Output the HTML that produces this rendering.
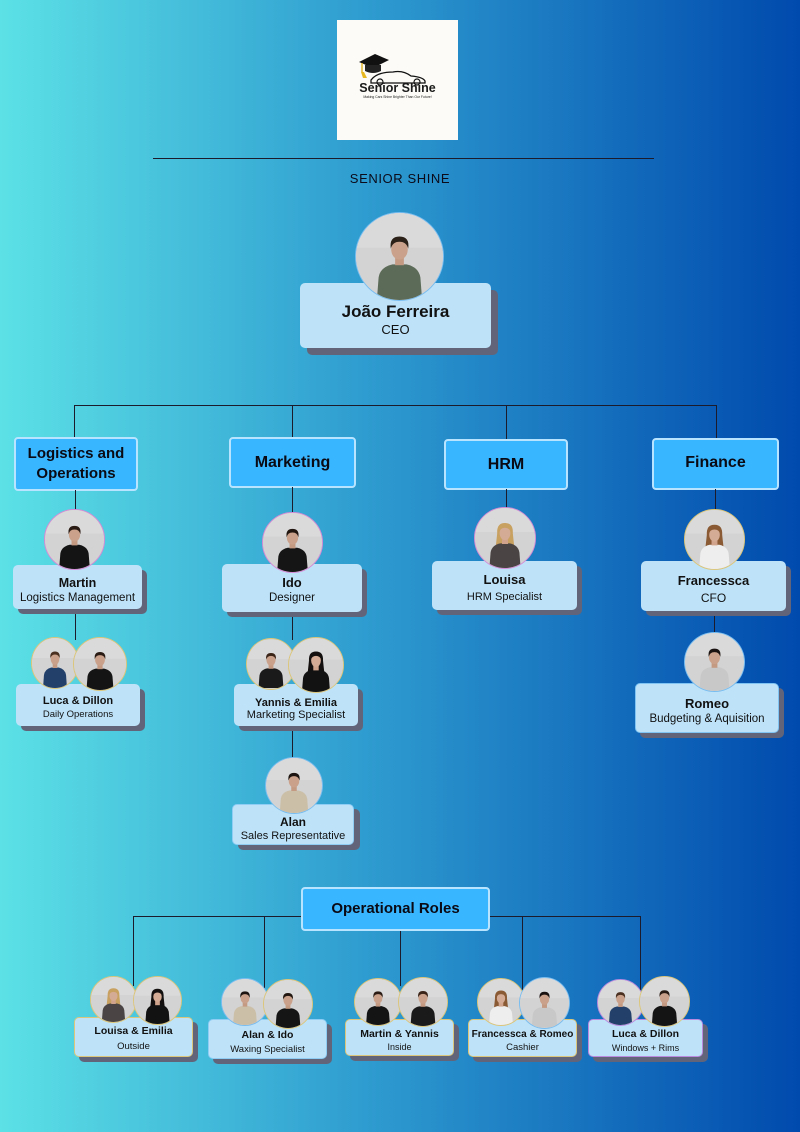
<!DOCTYPE html>
<html><head><meta charset="utf-8">
<style>
html,body{margin:0;padding:0}
body{width:800px;height:1132px;position:relative;overflow:hidden;background:linear-gradient(90deg,#5ce1e6 0%,#2f9dd0 45%,#004aad 100%);font-family:"Liberation Sans",Arial,sans-serif;color:#111}
.a{position:absolute}
.ln{position:absolute;background:#1b1b2b}
.dept{position:absolute;background:#38b6ff;border:2px solid #b9e4ff;border-radius:4px;box-sizing:border-box;font-weight:bold;text-align:center;color:#0a0a14}
.box{position:absolute;background:#bee3f9;border-radius:5px;box-sizing:border-box;box-shadow:6px 6px 0 #62657a}
.t{position:absolute;text-align:center;white-space:nowrap;left:0;right:0}
.ph{position:absolute;border-radius:50%;overflow:hidden;box-sizing:border-box;border:1.5px solid #7ec3f0;background:#d4d4d4}
.ph svg{display:block;width:100%;height:100%}
.pk{border-color:#d48bd6}
.yl{border-color:#dcc679}
.bl{border-color:#79bdf0}
.pu{border-color:#b98ae0}
</style></head><body>
<svg width="0" height="0" style="position:absolute">
<defs>
<symbol id="m" viewBox="0 0 100 100">
<rect width="100" height="100" fill="#d3d3d3"/>
<rect width="100" height="40" fill="#dadada"/>
<path d="M24 100 L26 74 Q28 62 42 59 L58 59 Q72 62 74 74 L76 100Z" fill="currentColor"/>
<rect x="45" y="50" width="10" height="10" fill="#c49a82"/>
<ellipse cx="50" cy="42" rx="9.5" ry="11.5" fill="#caa18a"/>
<path d="M40 41 Q38 27 50 27 Q62 27 60 41 Q58 33 50 33 Q42 33 40 41Z" style="fill:var(--h,#2a1c14)"/>
</symbol>
<symbol id="f" viewBox="0 0 100 100">
<rect width="100" height="100" fill="#d3d3d3"/>
<rect width="100" height="40" fill="#dadada"/>
<path d="M37 42 Q36 25 50 25 Q64 25 63 42 L66 70 L34 70Z" style="fill:var(--h,#2a1c14)"/>
<path d="M24 100 L26 74 Q28 62 42 59 L58 59 Q72 62 74 74 L76 100Z" fill="currentColor"/>
<rect x="45" y="50" width="10" height="10" fill="#d0a48c"/>
<ellipse cx="50" cy="42" rx="9" ry="11.5" fill="#d4ab94"/>
<path d="M40 40 Q40 29 50 29 Q60 29 60 40 Q57 33 50 33 Q43 33 40 40Z" style="fill:var(--h,#2a1c14)"/>
</symbol>
</defs>
</svg>

<!-- Logo -->
<div class="a" style="left:337px;top:20px;width:121px;height:120px;background:#fcfbf7"></div>
<svg class="a" style="left:337px;top:20px" width="121" height="120" viewBox="0 0 121 120">
<polygon points="22,42 38,34 52,40 36,48" fill="#111"/>
<path d="M28 45 L28 51 Q36 55 44 51 L44 45" fill="#222"/>
<line x1="25" y1="43" x2="25" y2="52" stroke="#e0b020" stroke-width="1.4"/>
<polygon points="24,52 27,52 30,58 26,58" fill="#e8b820"/>
<path d="M34 60 Q40 52 56 52 Q66 50 74 56 Q86 57 88 61 L88 63 L34 63Z" fill="none" stroke="#111" stroke-width="1.3"/>
<circle cx="43" cy="62" r="3" fill="none" stroke="#111" stroke-width="1.2"/>
<circle cx="80" cy="62" r="3" fill="none" stroke="#111" stroke-width="1.2"/>
<text x="60.5" y="72" text-anchor="middle" font-family="Liberation Sans, sans-serif" font-weight="bold" font-size="12.5" fill="#1a1a1a">Senior Shine</text>
<text x="60.5" y="78" text-anchor="middle" font-family="Liberation Sans, sans-serif" font-size="3.4" fill="#222">Making Cars Shine Brighter Than Our Future!</text>
</svg>

<div class="ln" style="left:153px;top:158px;width:501px;height:1.3px"></div>
<div class="a" style="left:300px;top:171px;width:200px;text-align:center;font-size:13px;letter-spacing:0.6px;color:#0b0b1a">SENIOR SHINE</div>

<!-- CEO -->
<div class="box" style="left:300px;top:283px;width:191px;height:65px;box-shadow:7px 7px 0 #62657a">
<div class="t" style="top:19px;font-size:17px;font-weight:bold;line-height:20px">João Ferreira</div>
<div class="t" style="top:39px;font-size:13px;line-height:16px">CEO</div>
</div>
<div class="ph bl" style="left:355px;top:212px;width:89px;height:89px"><svg viewBox="0 0 100 100" style="color:#5c6b58;--h:#2b2118"><use href="#m"/></svg></div>

<!-- top connectors -->
<div class="ln" style="left:74px;top:405px;width:643px;height:1.4px"></div>
<div class="ln" style="left:74px;top:405px;width:1.4px;height:32px"></div>
<div class="ln" style="left:292px;top:405px;width:1.4px;height:32px"></div>
<div class="ln" style="left:506px;top:405px;width:1.4px;height:34px"></div>
<div class="ln" style="left:716px;top:405px;width:1.4px;height:33px"></div>

<!-- dept boxes -->
<div class="dept" style="left:14px;top:437px;width:124px;height:54px;font-size:15px;line-height:20px;padding-top:5px">Logistics and<br>Operations</div>
<div class="dept" style="left:229px;top:437px;width:127px;height:51px;font-size:16px;line-height:47px">Marketing</div>
<div class="dept" style="left:444px;top:439px;width:124px;height:51px;font-size:16px;line-height:47px">HRM</div>
<div class="dept" style="left:652px;top:438px;width:127px;height:52px;font-size:16px;line-height:46px">Finance</div>

<!-- dept to people lines -->
<div class="ln" style="left:75px;top:490px;width:1.4px;height:20px"></div>
<div class="ln" style="left:292px;top:487px;width:1.4px;height:25px"></div>
<div class="ln" style="left:506px;top:489px;width:1.4px;height:19px"></div>
<div class="ln" style="left:715px;top:489px;width:1.4px;height:21px"></div>
<div class="ln" style="left:75px;top:609px;width:1.4px;height:31px"></div>
<div class="ln" style="left:292px;top:612px;width:1.4px;height:28px"></div>
<div class="ln" style="left:292px;top:726px;width:1.4px;height:31px"></div>
<div class="ln" style="left:714px;top:611px;width:1.4px;height:21px"></div>

<!-- Martin -->
<div class="box" style="left:13px;top:565px;width:129px;height:44px;box-shadow:5px 5px 0 #62657a">
<div class="t" style="top:10px;font-size:12.5px;font-weight:bold;line-height:16px">Martin</div>
<div class="t" style="top:26px;font-size:11.5px;line-height:14px">Logistics Management</div>
</div>
<div class="ph pk" style="left:44px;top:509px;width:61px;height:61px"><svg viewBox="0 0 100 100" style="color:#141414;--h:#2a1c14"><use href="#m"/></svg></div>

<!-- Luca & Dillon -->
<div class="box" style="left:16px;top:684px;width:124px;height:42px;box-shadow:5px 5px 0 #62657a">
<div class="t" style="top:10px;font-size:11px;font-weight:bold;line-height:14px">Luca &amp; Dillon</div>
<div class="t" style="top:25px;font-size:9.5px;line-height:12px">Daily Operations</div>
</div>
<div class="ph yl" style="left:31px;top:637px;width:48px;height:52px"><svg viewBox="0 0 100 100" preserveAspectRatio="none" style="color:#22406a;--h:#4a3020"><use href="#m"/></svg></div>
<div class="ph yl" style="left:73px;top:637px;width:54px;height:54px"><svg viewBox="0 0 100 100" style="color:#141414;--h:#2a1c14"><use href="#m"/></svg></div>

<!-- Ido -->
<div class="box" style="left:222px;top:564px;width:140px;height:48px;box-shadow:5px 5px 0 #62657a">
<div class="t" style="top:11px;font-size:13px;font-weight:bold;line-height:16px">Ido</div>
<div class="t" style="top:27px;font-size:11.5px;line-height:14px">Designer</div>
</div>
<div class="ph pk" style="left:262px;top:512px;width:61px;height:61px"><svg viewBox="0 0 100 100" style="color:#151515;--h:#221610"><use href="#m"/></svg></div>

<!-- Yannis & Emilia -->
<div class="box" style="left:234px;top:684px;width:124px;height:42px;box-shadow:5px 5px 0 #62657a">
<div class="t" style="top:12px;font-size:11px;font-weight:bold;line-height:14px">Yannis &amp; Emilia</div>
<div class="t" style="top:25px;font-size:11px;line-height:13px">Marketing Specialist</div>
</div>
<div class="ph yl" style="left:246px;top:638px;width:50px;height:52px"><svg viewBox="0 0 100 100" style="color:#1a1a1a;--h:#3a2418"><use href="#m"/></svg></div>
<div class="ph yl" style="left:288px;top:637px;width:56px;height:56px"><svg viewBox="0 0 100 100" style="color:#121212;--h:#141010"><use href="#f"/></svg></div>

<!-- Alan -->
<div class="box" style="left:232px;top:804px;width:122px;height:41px;border:1.5px solid #8fcdf5;box-shadow:6px 5px 0 #62657a">
<div class="t" style="top:10px;font-size:12px;font-weight:bold;line-height:14px">Alan</div>
<div class="t" style="top:24px;font-size:11px;line-height:14px">Sales Representative</div>
</div>
<div class="ph bl" style="left:265px;top:757px;width:58px;height:57px"><svg viewBox="0 0 100 100" style="color:#cbbfa8;--h:#1c1410"><use href="#m"/></svg></div>

<!-- Louisa -->
<div class="box" style="left:432px;top:561px;width:145px;height:49px;box-shadow:5px 5px 0 #62657a">
<div class="t" style="top:11px;font-size:13px;font-weight:bold;line-height:16px">Louisa</div>
<div class="t" style="top:29px;font-size:11px;line-height:14px">HRM Specialist</div>
</div>
<div class="ph pk" style="left:474px;top:507px;width:62px;height:62px"><svg viewBox="0 0 100 100" style="color:#4a4444;--h:#c8a060"><use href="#f"/></svg></div>

<!-- Francessca -->
<div class="box" style="left:641px;top:561px;width:145px;height:50px;box-shadow:5px 5px 0 #62657a">
<div class="t" style="top:12px;font-size:13px;font-weight:bold;line-height:16px">Francessca</div>
<div class="t" style="top:30px;font-size:12px;line-height:14px">CFO</div>
</div>
<div class="ph yl" style="left:684px;top:509px;width:61px;height:61px"><svg viewBox="0 0 100 100" style="color:#eeeeee;--h:#8a5a34"><use href="#f"/></svg></div>

<!-- Romeo -->
<div class="box" style="left:635px;top:683px;width:144px;height:50px;border:1.5px solid #7fc4f2;box-shadow:5px 5px 0 #62657a">
<div class="t" style="top:12px;font-size:13px;font-weight:bold;line-height:16px">Romeo</div>
<div class="t" style="top:28px;font-size:11.5px;line-height:14px">Budgeting &amp; Aquisition</div>
</div>
<div class="ph bl" style="left:684px;top:632px;width:61px;height:60px"><svg viewBox="0 0 100 100" style="color:#c8c8c8;--h:#1a1210"><use href="#m"/></svg></div>

<!-- Operational Roles -->
<div class="ln" style="left:133px;top:916px;width:168px;height:1.4px"></div>
<div class="ln" style="left:489px;top:916px;width:152px;height:1.4px"></div>
<div class="ln" style="left:133px;top:916px;width:1.4px;height:70px"></div>
<div class="ln" style="left:264px;top:916px;width:1.4px;height:72px"></div>
<div class="ln" style="left:400px;top:930px;width:1.4px;height:56px"></div>
<div class="ln" style="left:522px;top:916px;width:1.4px;height:74px"></div>
<div class="ln" style="left:640px;top:916px;width:1.4px;height:74px"></div>
<div class="dept" style="left:301px;top:887px;width:189px;height:44px;font-size:15px;line-height:40px">Operational Roles</div>

<!-- bottom 1 -->
<div class="box" style="left:74px;top:1017px;width:119px;height:40px;border:1.5px solid #dcc679;box-shadow:5px 5px 0 #62657a">
<div class="t" style="top:7px;font-size:10.5px;font-weight:bold;line-height:13px">Louisa &amp; Emilia</div>
<div class="t" style="top:23px;font-size:9.5px;line-height:12px">Outside</div>
</div>
<div class="ph yl" style="left:90px;top:976px;width:47px;height:47px"><svg viewBox="0 0 100 100" style="color:#4a4444;--h:#c8a060"><use href="#f"/></svg></div>
<div class="ph yl" style="left:133px;top:976px;width:49px;height:49px"><svg viewBox="0 0 100 100" style="color:#121212;--h:#141010"><use href="#f"/></svg></div>

<!-- bottom 2 -->
<div class="box" style="left:208px;top:1019px;width:119px;height:40px;border:1.5px solid #8fcdf5;box-shadow:5px 5px 0 #62657a">
<div class="t" style="top:9px;font-size:10.5px;font-weight:bold;line-height:13px">Alan &amp; Ido</div>
<div class="t" style="top:24px;font-size:9.5px;line-height:12px">Waxing Specialist</div>
</div>
<div class="ph bl" style="left:221px;top:978px;width:48px;height:48px"><svg viewBox="0 0 100 100" style="color:#cbbfa8;--h:#1c1410"><use href="#m"/></svg></div>
<div class="ph yl" style="left:263px;top:979px;width:50px;height:50px"><svg viewBox="0 0 100 100" style="color:#151515;--h:#221610"><use href="#m"/></svg></div>

<!-- bottom 3 -->
<div class="box" style="left:345px;top:1019px;width:109px;height:37px;border:1.5px solid #dcc679;box-shadow:5px 5px 0 #62657a">
<div class="t" style="top:8px;font-size:10.5px;font-weight:bold;line-height:13px">Martin &amp; Yannis</div>
<div class="t" style="top:21px;font-size:9px;line-height:12px">Inside</div>
</div>
<div class="ph yl" style="left:354px;top:978px;width:48px;height:48px"><svg viewBox="0 0 100 100" style="color:#141414;--h:#2a1c14"><use href="#m"/></svg></div>
<div class="ph yl" style="left:398px;top:977px;width:50px;height:50px"><svg viewBox="0 0 100 100" style="color:#1a1a1a;--h:#3a2418"><use href="#m"/></svg></div>

<!-- bottom 4 -->
<div class="box" style="left:468px;top:1019px;width:109px;height:38px;border:1.5px solid #dcc679;box-shadow:5px 5px 0 #62657a">
<div class="t" style="top:8px;font-size:10px;font-weight:bold;line-height:13px">Francessca &amp; Romeo</div>
<div class="t" style="top:22px;font-size:9.5px;line-height:12px">Cashier</div>
</div>
<div class="ph yl" style="left:477px;top:978px;width:48px;height:48px"><svg viewBox="0 0 100 100" style="color:#eeeeee;--h:#8a5a34"><use href="#f"/></svg></div>
<div class="ph bl" style="left:519px;top:977px;width:51px;height:52px"><svg viewBox="0 0 100 100" style="color:#c8c8c8;--h:#1a1210"><use href="#m"/></svg></div>

<!-- bottom 5 -->
<div class="box" style="left:588px;top:1019px;width:115px;height:38px;border:1.5px solid #b98ae0;box-shadow:5px 5px 0 #62657a">
<div class="t" style="top:8px;font-size:10.5px;font-weight:bold;line-height:13px">Luca &amp; Dillon</div>
<div class="t" style="top:22px;font-size:9px;line-height:12px">Windows + Rims</div>
</div>
<div class="ph pu" style="left:597px;top:979px;width:47px;height:47px"><svg viewBox="0 0 100 100" style="color:#22406a;--h:#4a3020"><use href="#m"/></svg></div>
<div class="ph yl" style="left:639px;top:976px;width:51px;height:51px"><svg viewBox="0 0 100 100" style="color:#141414;--h:#2a1c14"><use href="#m"/></svg></div>

</body></html>
